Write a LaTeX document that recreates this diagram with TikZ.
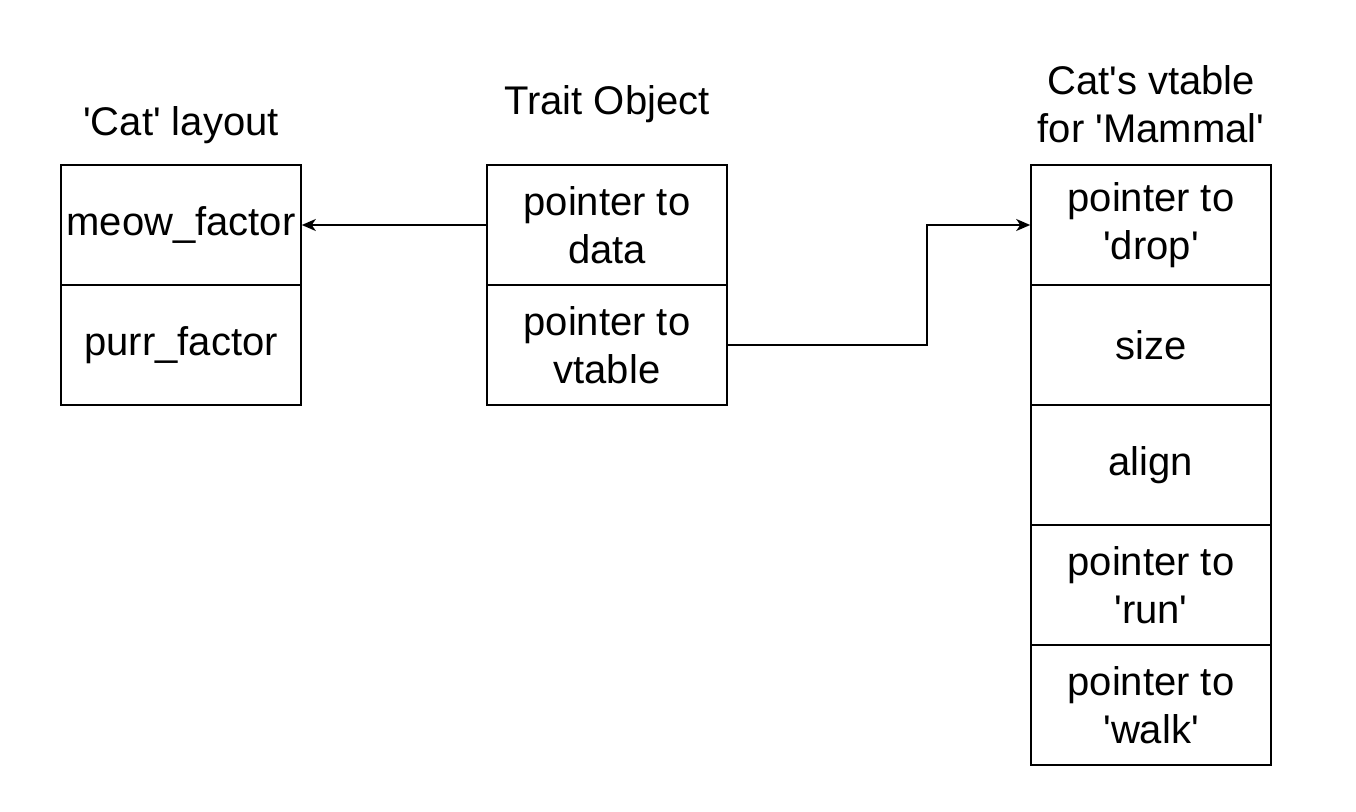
\documentclass[tikz,border=0pt]{standalone}
\usepackage{fontspec}
\setmainfont{Liberation Sans}
\usetikzlibrary{arrows.meta}
\newcommand{\sq}{\textquotesingle}
\begin{document}
\begin{tikzpicture}[x=0.5pt, y=-0.5pt,
    every node/.style={font=\fontsize{20}{24}\selectfont, align=center},
    cell/.style={draw, thick, minimum width=120pt, minimum height=60pt, inner sep=0pt},
    link/.style={thick, -{Stealth[length=7pt, width=6pt, inset=2pt]}}]
    \useasboundingbox (0,0) rectangle (1356,812);

    % 'Cat' layout
    \node[cell] (meow) at (181,225) {meow\_factor};
    \node[cell] (purr) at (181,345) {purr\_factor};
    \node (cattitle) at (181,125) {\sq Cat\sq{} layout};

    % trait object
    \node[cell] (data) at (607,225) {pointer to\\data};
    \node[cell] (vtab) at (607,345) {pointer to\\vtable};
    \node (traittitle) at (607,104) {Trait Object};

    % vtable
    \node[cell] (drop) at (1151,225) {pointer to\\\sq drop\sq};
    \node[cell] (size) at (1151,345) {size};
    \node[cell] (align) at (1151,465) {align};
    \node[cell] (run) at (1151,585) {pointer to\\\sq run\sq};
    \node[cell] (walk) at (1151,705) {pointer to\\\sq walk\sq};
    \node (vtitle) at (1151,104) {Cat\sq s vtable\\for \sq Mammal\sq};

    \coordinate (bend) at (927,345);

    \draw[link] (data) -- (meow);
    \draw[link] (vtab) -- (bend) |- (drop);
\end{tikzpicture}
\end{document}
